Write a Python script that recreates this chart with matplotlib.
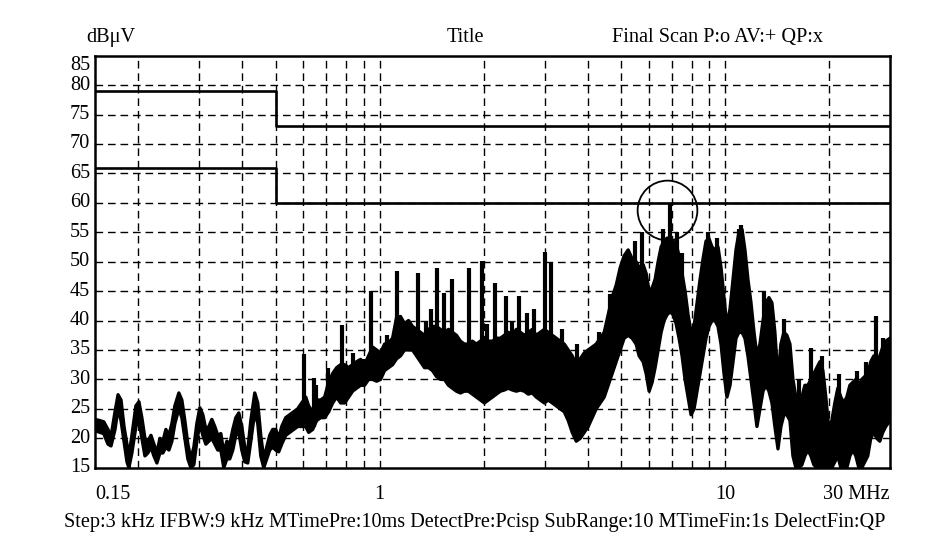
import matplotlib
matplotlib.use("Agg")
import matplotlib.pyplot as plt
import matplotlib.transforms as mtransforms

plt.rcParams['font.family'] = ['Liberation Serif', 'DejaVu Serif']

# ---------------- data ----------------
y_ticks = [15, 20, 25, 30, 35, 40, 45, 50, 55, 60, 65, 70, 75, 80, 85]
x_tick_vals = [0.15, 1, 10, 30]
x_tick_text = ["0.15", "1", "10", "30 MHz"]
x_grid = [0.2, 0.3, 0.4, 0.5, 0.6, 0.7, 0.8, 0.9, 1, 2, 3, 4, 5, 6, 7, 8, 9, 10, 20]

# limit lines (QP and AV)
limit_freq = [0.15, 0.5, 0.5, 30]
qp_limit = [79, 79, 73, 73]
av_limit = [66, 66, 60, 60]

# measured trace: envelope (upper / lower) of the dense scan
freq_mhz = [
    0.150, 0.155, 0.159, 0.1635, 0.1669, 0.1714, 0.1749, 0.1784, 0.182, 0.1856,
    0.188, 0.1918, 0.197, 0.201, 0.205, 0.2092, 0.2134, 0.2178, 0.2221, 0.2266,
    0.2312, 0.2358, 0.2406, 0.2455, 0.2504, 0.2554, 0.2623, 0.2676, 0.273, 0.2785,
    0.2842, 0.2899, 0.2957, 0.3017, 0.3078, 0.314, 0.3203, 0.3268, 0.3333, 0.34,
    0.347, 0.3539, 0.3611, 0.3683, 0.3758, 0.3834, 0.3911, 0.399, 0.407, 0.4152,
    0.4237, 0.435, 0.4438, 0.4528, 0.4619, 0.4711, 0.4806, 0.4903, 0.5002, 0.5103,
    0.5206, 0.5347, 0.549, 0.5639, 0.5791, 0.5947,
    0.611, 0.623, 0.640, 0.657, 0.675, 0.693, 0.712, 0.731, 0.751, 0.771,
    0.792, 0.813, 0.835, 0.857, 0.881, 0.904, 0.929, 0.954, 0.980, 1.006,
    1.033, 1.061, 1.090, 1.119, 1.149, 1.180, 1.212, 1.245, 1.278, 1.313,
    1.348, 1.385, 1.422, 1.460, 1.500, 1.540, 1.582, 1.624, 1.668, 1.713, 1.759,
    1.807, 1.855, 1.905, 1.957, 2.010, 2.064, 2.120, 2.177, 2.236, 2.296,
    2.358, 2.421, 2.487, 2.554, 2.622, 2.693, 2.766, 2.840, 2.918, 2.996,
    3.077, 3.160, 3.245, 3.333, 3.422, 3.515, 3.609, 3.707, 3.808, 3.909,
    4.015, 4.123, 4.234, 4.350, 4.466, 4.586, 4.710, 4.837, 4.969, 5.101,
    5.239, 5.380, 5.525, 5.637, 5.789, 5.906, 6.024, 6.146, 6.270, 6.397,
    6.526, 6.657, 6.791, 6.930, 7.068, 7.210, 7.355, 7.504, 7.655, 7.810,
    7.967, 8.128, 8.292, 8.461, 8.630, 8.803, 8.981, 9.162, 9.347, 9.535,
    9.728, 9.923, 10.12, 10.33, 10.54, 10.75, 10.96, 11.19, 11.41, 11.64,
    11.88, 12.12, 12.36, 12.61, 12.87, 13.12, 13.39, 13.66, 13.93, 14.22,
    14.50, 14.79, 15.09, 15.40, 15.71, 16.02, 16.35, 16.68, 17.01, 17.36,
    17.71, 18.06, 18.43, 18.80, 19.18, 19.56, 19.96, 20.36, 20.77, 21.19,
    21.62, 22.05, 22.50, 22.96, 23.42, 23.89, 24.37, 24.86, 25.36, 25.87,
    26.39, 26.93, 27.47, 28.03, 28.59, 29.16, 30.0,
]
level_upper = [
    23.2, 23.0, 22.8, 21.5, 20.3, 24.5, 27.4, 26.5, 22.0, 19.0,
    17.0, 20.5, 25.5, 26.2, 23.5, 20.0, 19.5, 20.5, 19.0, 17.5,
    20.0, 19.5, 21.5, 20.5, 22.5, 25.5, 27.7, 26.5, 23.0, 19.0,
    16.5, 18.5, 22.5, 25.2, 24.0, 21.5, 22.0, 23.2, 22.0, 20.5,
    20.8, 17.5, 19.5, 19.0, 21.5, 23.5, 24.3, 22.0, 18.5, 18.0,
    23.0, 27.7, 26.0, 20.5, 16.5, 18.5, 20.5, 21.5, 21.5, 20.0,
    22.0, 23.5, 24.0, 24.5, 25.0, 26.0,
    27.0, 25.5, 24.5, 26.5, 26.5, 27.0, 29.5, 31.0, 32.0, 32.5,
    32.5, 32.0, 32.5, 33.0, 33.4, 32.5, 34.0, 35.5, 35.0, 34.5,
    36.0, 36.2, 37.0, 40.5, 40.7, 39.5, 40.0, 39.0, 38.5, 38.0,
    37.5, 38.5, 39.0, 39.0, 38.5, 38.0, 38.5, 38.0, 37.5, 36.5, 36.0,
    36.0, 36.5, 36.0, 36.5, 37.0, 36.5, 36.5, 37.0, 37.0, 37.5,
    38.0, 37.5, 38.5, 38.0, 37.5, 38.0, 38.5, 37.5, 38.0, 38.5,
    38.0, 37.5, 37.0, 36.5, 36.0, 35.0, 34.0, 32.5, 33.5, 34.5,
    35.0, 35.5, 36.0, 37.0, 38.0, 41.0, 44.0, 46.0, 49.0, 51.0,
    52.0, 50.5, 50.0, 49.0, 49.5, 48.0, 45.0, 45.5, 47.0, 50.0,
    52.5, 53.5, 54.0, 54.0, 53.5, 53.0, 51.0, 48.0, 45.0, 41.0,
    38.0, 39.0, 43.0, 47.0, 50.5, 53.5, 53.9, 52.5, 52.0, 52.5,
    49.0, 44.0, 39.0, 42.0, 47.0, 52.0, 55.0, 55.5, 52.0, 47.0,
    43.0, 38.0, 34.0, 36.0, 40.0, 43.0, 43.9, 43.0, 38.0, 30.0,
    36.0, 38.0, 37.5, 36.0, 30.0, 27.0, 26.0, 27.0, 29.0, 29.0,
    30.0, 31.0, 32.0, 33.0, 31.5, 27.0, 21.5, 23.0, 26.0, 28.5,
    27.0, 26.0, 27.0, 29.0, 29.5, 30.0, 29.0, 30.0, 30.5, 31.0,
    33.0, 34.0, 33.0, 34.0, 35.5, 36.5, 37.0,
]
level_lower = [
    21.3, 21.0, 20.8, 19.0, 18.7, 21.5, 25.0, 23.0, 19.5, 16.0,
    15.0, 17.5, 22.0, 23.0, 20.0, 17.0, 17.5, 18.5, 17.0, 15.8,
    17.5, 17.5, 18.5, 18.0, 19.5, 22.5, 25.0, 23.5, 20.0, 16.5,
    15.0, 15.5, 19.5, 22.5, 20.5, 19.0, 19.5, 20.0, 19.0, 18.0,
    18.0, 15.0, 16.5, 16.5, 18.0, 20.5, 21.0, 18.0, 16.0, 15.8,
    19.5, 24.5, 22.5, 17.0, 15.0, 16.5, 18.0, 18.5, 18.0, 17.7,
    19.0, 20.5, 21.0, 21.5, 22.0, 22.0,
    22.0, 21.0, 21.5, 23.0, 23.5, 23.5, 24.5, 26.0, 27.0, 26.0,
    26.0, 27.0, 28.0, 28.5, 29.0, 29.0, 30.0, 30.0, 29.7, 30.0,
    31.5, 32.0, 32.5, 33.5, 34.0, 35.0, 35.0, 35.0, 34.0, 33.0,
    32.0, 32.0, 31.5, 30.5, 30.0, 30.0, 29.0, 28.5, 28.0, 27.7, 28.0,
    28.0, 27.5, 27.0, 26.5, 26.0, 26.5, 27.0, 27.5, 28.0, 28.2,
    28.5, 28.2, 28.0, 28.2, 28.0, 27.5, 27.7, 27.0, 26.5, 26.0,
    26.5, 26.0, 25.5, 25.0, 24.5, 23.0, 21.0, 19.5, 20.0, 21.0,
    22.0, 23.5, 25.0, 26.0, 27.0, 29.0, 31.0, 33.0, 35.0, 37.0,
    37.5, 37.0, 36.0, 34.0, 33.0, 31.0, 28.0, 29.5, 32.0, 35.0,
    38.0, 40.0, 41.0, 41.5, 41.0, 39.5, 37.0, 34.0, 30.0, 27.0,
    24.0, 25.0, 28.0, 31.0, 34.0, 37.0, 39.0, 40.0, 40.0, 39.0,
    36.0, 31.0, 27.0, 29.0, 33.0, 37.0, 38.0, 38.0, 37.0, 34.0,
    30.0, 26.0, 22.0, 25.0, 28.0, 29.0, 28.0, 26.0, 22.0, 18.2,
    22.0, 24.0, 24.0, 23.0, 17.0, 15.0, 15.0, 15.5, 17.0, 18.0,
    17.0, 15.5, 15.0, 15.0, 15.0, 15.0, 15.0, 15.0, 16.0, 17.0,
    15.0, 15.0, 15.0, 17.0, 18.0, 17.0, 15.0, 15.0, 16.0, 17.0,
    20.0, 21.0, 20.0, 19.5, 21.0, 22.0, 23.0,
]

# narrow emission spikes rising above the envelope
spike_freq = [0.603, 0.644, 0.707, 0.776, 0.892, 0.947, 1.126, 1.295, 1.412, 1.470,
              1.540, 1.624, 1.819, 1.983, 2.162, 2.326, 2.537, 2.675, 2.803, 3.016,
              3.139, 3.377, 3.731, 5.489, 5.751, 6.91, 7.504, 11.11, 14.79, 17.71, 27.29,
              0.655, 0.84, 1.05, 1.36, 2.05, 2.42, 4.30, 4.65, 6.60, 7.25, 8.90, 9.45,
              10.95, 12.95, 16.40, 19.10, 21.30, 24.10, 25.50, 28.70]
spike_top = [34.3, 30.2, 31.9, 39.3, 33.4, 45.0, 48.4, 48.1, 41.9, 49.0,
             44.7, 47.0, 49.0, 50.1, 46.4, 44.1, 44.1, 41.2, 42.0, 51.6,
             50.0, 38.5, 36.0, 53.6, 55.0, 59.9, 51.4, 56.2, 40.2, 35.4, 40.7,
             29.0, 34.5, 37.5, 40.0, 39.5, 40.0, 38.0, 44.5, 55.5, 55.0, 55.0, 54.0,
             55.5, 45.0, 30.0, 34.0, 31.0, 31.5, 33.0, 37.0]
spike_base = [24, 22, 25, 28, 30, 31, 35, 35, 34, 34,
              33, 32, 32, 31, 32, 33, 33, 33, 32, 32,
              32, 30, 28, 42, 42, 48, 42, 45, 30, 25, 28,
              24, 30, 33, 34, 30, 30, 28, 32, 45, 45, 44, 44,
              45, 35, 20, 20, 20, 20, 20, 25]

# highlighted critical point
circle_freq = [6.79]
circle_level = [58.8]

# ---------------- figure ----------------
W, H = 951, 549
fig = plt.figure(figsize=(W / 100, H / 100), dpi=100)
x0, x1, ytop, ybot = 95, 890, 55.7, 467.7
ax = fig.add_axes([x0 / W, (H - ybot) / H, (x1 - x0) / W, (ybot - ytop) / H])
ax.set_xscale('log')
ax.set_xlim(0.15, 30)
ax.set_ylim(15, 85)
ax.set_xticks([])
ax.set_xticks([], minor=True)
ax.set_yticks([])
for s in ax.spines.values():
    s.set_linewidth(1.8)
    s.set_color('black')
    s.set_zorder(10)

dash = (0, (5.5, 3.5))
for v in y_ticks[1:-1]:
    ax.axhline(v, color='black', lw=1.0, ls=dash, zorder=1)
for f in x_grid:
    ax.axvline(f, color='black', lw=1.0, ls=dash, zorder=1)

# limits
ax.plot(limit_freq, qp_limit, color='black', lw=1.9, zorder=3)
ax.plot(limit_freq, av_limit, color='black', lw=1.9, zorder=3)

# trace
ax.fill_between(freq_mhz, level_lower, level_upper, color='black', lw=0, zorder=4)
ax.plot(freq_mhz, level_upper, color='black', lw=2.4, zorder=4, solid_joinstyle='round')
ax.plot(freq_mhz, level_lower, color='black', lw=2.4, zorder=4, solid_joinstyle='round')
ax.vlines(spike_freq, spike_base, spike_top, color='black', lw=3.0, zorder=4)

# circle marker
ax.plot(circle_freq, circle_level, marker='o', ms=43, mfc='none', mec='black',
        mew=1.3, ls='none', zorder=6)

# tick labels
fs = 14.6
ytr = mtransforms.blended_transform_factory(ax.transAxes, ax.transData)
for v in y_ticks:
    ax.text(-0.006, v, str(v), transform=ytr, ha='right',
            va='top' if v == 85 else 'center', fontsize=fs)
xtr = mtransforms.blended_transform_factory(ax.transData, ax.transAxes)
for v, t in zip(x_tick_vals, x_tick_text):
    ha = 'left' if v == x_tick_vals[0] else ('right' if v == x_tick_vals[-1] else 'center')
    ax.text(v, -0.066, t, transform=xtr, ha=ha, va='center', fontsize=fs)

# header texts
fig.text(86 / W, 1 - 37.5 / H, "dBμV", ha='left', va='center', fontsize=fs)
fig.text(465 / W, 1 - 37.5 / H, "Title", ha='center', va='center', fontsize=fs)
fig.text(717 / W, 1 - 37.5 / H, "Final Scan P:o AV:+ QP:x", ha='center', va='center', fontsize=fs)
fig.text(475 / W, 1 - 523 / H,
         "Step:3 kHz IFBW:9 kHz MTimePre:10ms DetectPre:Pcisp SubRange:10 MTimeFin:1s DelectFin:QP",
         ha='center', va='center', fontsize=fs)

fig.savefig("out.png", dpi=100)
